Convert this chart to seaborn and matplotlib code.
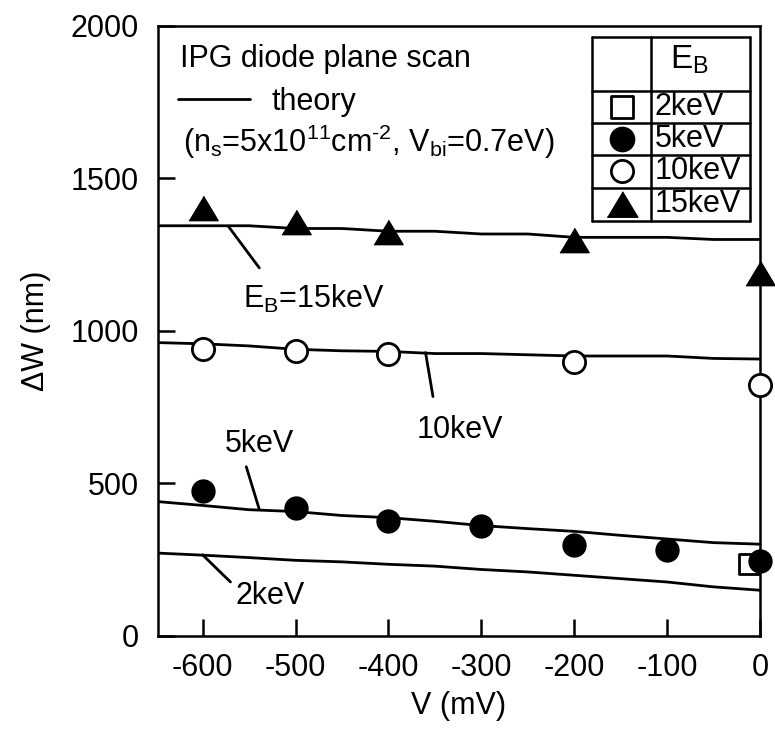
import numpy as np
import pandas as pd
import matplotlib
matplotlib.use("Agg")
import matplotlib.pyplot as plt
import seaborn as sns

# ---------------- data ----------------
theory_v = [-650, -600, -550, -500, -450, -400, -350, -300, -250, -200, -150, -100, -50, 0]
theory_15 = [1345, 1345, 1345, 1336, 1336, 1327, 1327, 1318, 1318, 1307, 1307, 1307, 1300, 1300]
theory_10 = [962, 958, 951, 940, 935, 933, 926, 926, 922, 918, 918, 918, 910, 908]
theory_5 = [441, 428, 414, 408, 395, 388, 376, 362, 352, 343, 330, 318, 306, 301]
theory_2 = [272, 265, 257, 248, 243, 235, 229, 218, 210, 199, 188, 177, 161, 150]

v_15 = [-600, -500, -400, -200, 0]
w_15 = [1402, 1358, 1323, 1298, 1191]
v_10 = [-600, -500, -400, -200, 0]
w_10 = [942, 935, 926, 899, 824]
v_5 = [-600, -500, -400, -300, -200, -100, 0]
w_5 = [474, 421, 377, 359, 297, 281, 246]
v_2 = [-12]
w_2 = [237]

series_labels = ["2keV", "5keV", "10keV", "15keV"]
x_ticks = [-600, -500, -400, -300, -200, -100, 0]
y_ticks = [0, 500, 1000, 1500, 2000]

# ---------------- style ----------------
sns.set_theme(style="ticks")
plt.rcParams["font.family"] = ["Liberation Sans", "DejaVu Sans"]
plt.rcParams["mathtext.fontset"] = "custom"
plt.rcParams["mathtext.rm"] = "Liberation Sans"
plt.rcParams["mathtext.it"] = "Liberation Sans:italic"
plt.rcParams["mathtext.bf"] = "Liberation Sans:bold"
plt.rcParams["axes.unicode_minus"] = False
plt.rcParams["text.color"] = "black"
plt.rcParams["axes.labelcolor"] = "black"
plt.rcParams["xtick.color"] = "black"
plt.rcParams["ytick.color"] = "black"

FS = 22
fig = plt.figure(figsize=(7.75, 7.36), dpi=100)
ax = fig.add_axes([0.2039, 0.1359, 0.7767, 0.8288])

theory_df = pd.DataFrame({
    "V": theory_v * 4,
    "W": theory_2 + theory_5 + theory_10 + theory_15,
    "E": sum([[lab] * len(theory_v) for lab in series_labels], []),
})
sns.lineplot(data=theory_df, x="V", y="W", hue="E", palette=["black"] * 4,
             estimator=None, legend=False, lw=2.0, ax=ax, sort=True)

tri = [(-1.2, -1.0), (1.2, -1.0), (0.0, 1.0)]
sns.scatterplot(x=v_5, y=w_5, marker="o", s=16 ** 2, color="black",
                edgecolor="black", linewidth=1.5, ax=ax, clip_on=False, zorder=5)
sns.scatterplot(x=v_10, y=w_10, marker="o", s=16 ** 2, color="white",
                edgecolor="black", linewidth=2.0, ax=ax, clip_on=False, zorder=5)
sns.scatterplot(x=v_15, y=w_15, marker=tri, s=21 ** 2, color="black",
                edgecolor="black", linewidth=1.0, ax=ax, clip_on=False, zorder=5)
sns.scatterplot(x=v_2, y=w_2, marker="s", s=15 ** 2, color="white",
                edgecolor="black", linewidth=2.0, ax=ax, clip_on=False, zorder=4)

ax.set_xlim(-648, 0)
ax.set_ylim(0, 2000)
ax.set_xticks(x_ticks)
ax.set_yticks(y_ticks)
ax.tick_params(direction="in", length=12, width=1.8, labelsize=FS, colors="black")
ax.tick_params(axis="x", pad=12)
ax.tick_params(axis="y", pad=14)
for sp in ax.spines.values():
    sp.set_linewidth(1.8)
    sp.set_color("black")
ax.set_xlabel("V (mV)", fontsize=FS, labelpad=6, color="black")
ax.set_ylabel("\u0394W (nm)", fontsize=FS, labelpad=14, color="black")

# ---------------- header texts ----------------
ax.text(0.0365, 0.933, "IPG diode plane scan", transform=ax.transAxes,
        fontsize=FS, va="baseline", ha="left")
ax.plot([0.033, 0.153], [0.880, 0.880], transform=ax.transAxes, color="black", lw=2.0)
ax.text(0.189, 0.862, "theory", transform=ax.transAxes,
        fontsize=FS, va="baseline", ha="left")
ax.text(0.0415, 0.794,
        "(n$_\\mathregular{s}$=5x10$^\\mathregular{11}$cm$^\\mathregular{\u20102}$, V$_\\mathregular{bi}$=0.7eV)",
        transform=ax.transAxes, fontsize=FS, va="baseline", ha="left")

# ---------------- annotations ----------------
ax.plot([-572, -539], [1342, 1207], color="black", lw=2.0)
ax.text(-557, 1076, r"E$_\mathregular{B}$=15keV", fontsize=FS, va="baseline", ha="left")
ax.plot([-360, -352], [929, 785], color="black", lw=2.0)
ax.text(-370, 649, "10keV", fontsize=FS, va="baseline", ha="left")
ax.plot([-553, -539], [555, 415], color="black", lw=2.0)
ax.text(-576, 603, "5keV", fontsize=FS, va="baseline", ha="left")
ax.plot([-600, -570], [266, 177], color="black", lw=2.0)
ax.text(-565, 105, "2keV", fontsize=FS, va="baseline", ha="left")

# ---------------- table legend ----------------
tx0, txm, tx1 = 0.721, 0.819, 0.983
rows = [0.982, 0.894, 0.8415, 0.789, 0.734, 0.681]
kw = dict(transform=ax.transAxes, color="black", lw=1.8, clip_on=False)
for r in rows:
    ax.plot([tx0, tx1], [r, r], **kw)
ax.plot([tx0, tx0], [rows[0], rows[-1]], **kw)
ax.plot([txm, txm], [rows[0], rows[-1]], **kw)
ax.plot([tx1, tx1], [rows[0], rows[-1]], **kw)
ax.text(0.883, 0.9307, r"E$_\mathregular{B}$", transform=ax.transAxes,
        fontsize=FS + 2, ha="center", va="baseline")
mx = 0.770
leg_styles = [
    dict(marker="s", s=16 ** 2, color="white", edgecolor="black", linewidth=2.0),
    dict(marker="o", s=17 ** 2, color="black", edgecolor="black", linewidth=1.5),
    dict(marker="o", s=16 ** 2, color="white", edgecolor="black", linewidth=2.0),
    dict(marker=tri, s=22 ** 2, color="black", edgecolor="black", linewidth=1.0),
]
for i, (lab, st) in enumerate(zip(series_labels, leg_styles)):
    yc = (rows[i + 1] + rows[i + 2]) / 2
    ax.scatter([mx], [yc], transform=ax.transAxes, clip_on=False, zorder=6, **st)
    ax.text(0.8256, yc, lab, transform=ax.transAxes, fontsize=FS,
            ha="left", va="center")

fig.savefig("out.png", dpi=100)
